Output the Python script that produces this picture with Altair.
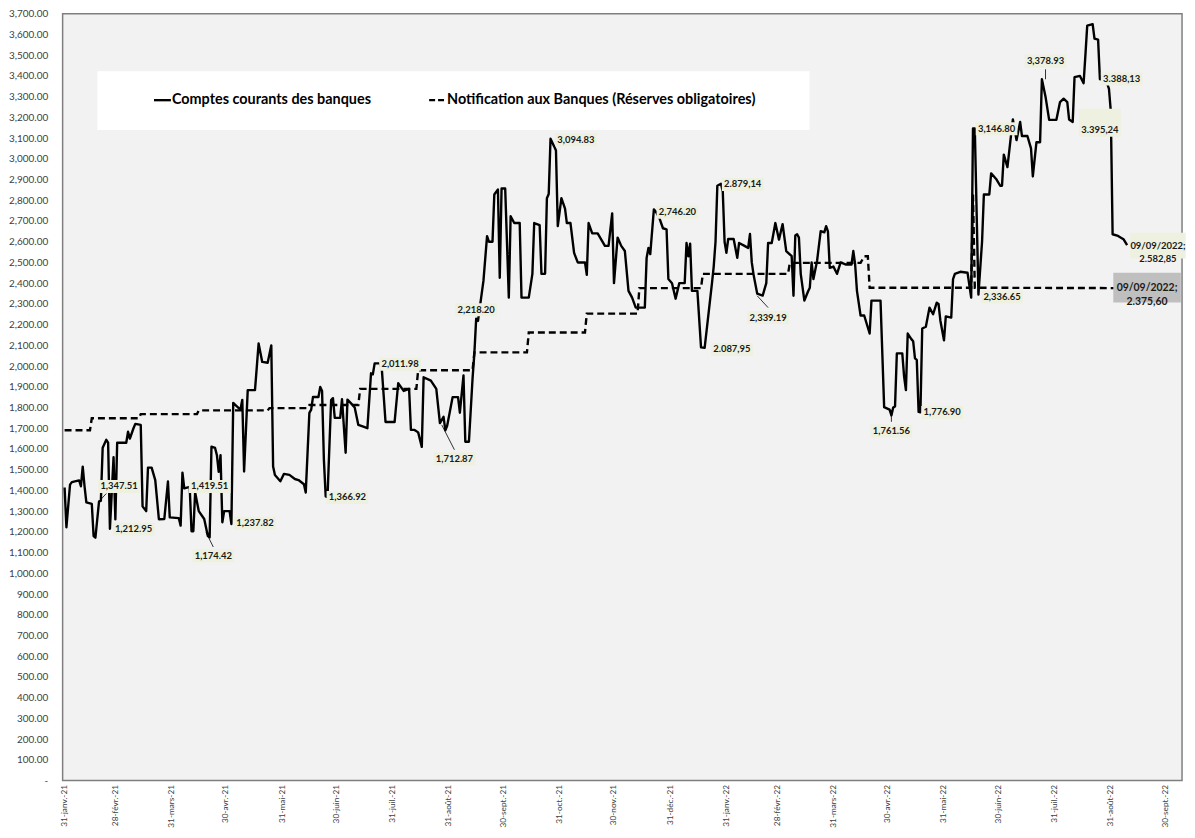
import altair as alt
import pandas as pd

# ---------------- data ----------------
cc_dates = [
    "2021-01-31", "2021-02-01", "2021-02-03", "2021-02-04", "2021-02-08", "2021-02-09", "2021-02-10",
    "2021-02-11", "2021-02-12", "2021-02-15", "2021-02-16", "2021-02-17", "2021-02-19", "2021-02-20",
    "2021-02-21", "2021-02-23", "2021-02-24", "2021-02-25", "2021-02-27", "2021-02-28", "2021-03-01",
    "2021-03-06", "2021-03-07", "2021-03-08", "2021-03-10", "2021-03-11", "2021-03-14", "2021-03-15",
    "2021-03-17", "2021-03-18", "2021-03-20", "2021-03-22", "2021-03-24", "2021-03-27", "2021-03-29",
    "2021-03-30", "2021-04-04", "2021-04-05", "2021-04-06", "2021-04-07", "2021-04-10", "2021-04-11",
    "2021-04-12", "2021-04-13", "2021-04-15", "2021-04-18", "2021-04-20", "2021-04-21", "2021-04-22",
    "2021-04-24", "2021-04-25", "2021-04-26", "2021-04-27", "2021-04-28", "2021-04-29", "2021-05-02",
    "2021-05-03", "2021-05-04", "2021-05-06", "2021-05-08", "2021-05-09", "2021-05-10", "2021-05-12",
    "2021-05-16", "2021-05-17", "2021-05-18", "2021-05-20", "2021-05-23", "2021-05-25", "2021-05-26",
    "2021-05-27", "2021-05-30", "2021-06-01", "2021-06-04", "2021-06-07", "2021-06-09", "2021-06-12",
    "2021-06-13", "2021-06-15", "2021-06-16", "2021-06-17", "2021-06-20", "2021-06-21", "2021-06-22",
    "2021-06-23", "2021-06-24", "2021-06-25", "2021-06-27", "2021-06-28", "2021-06-29", "2021-07-02",
    "2021-07-03", "2021-07-05", "2021-07-06", "2021-07-08", "2021-07-10", "2021-07-12", "2021-07-14",
    "2021-07-17", "2021-07-19", "2021-07-20", "2021-07-21", "2021-07-24", "2021-07-25", "2021-07-27",
    "2021-08-01", "2021-08-03", "2021-08-06", "2021-08-09", "2021-08-10", "2021-08-12", "2021-08-14",
    "2021-08-16", "2021-08-17", "2021-08-21", "2021-08-24", "2021-08-26", "2021-08-28", "2021-08-29",
    "2021-08-30", "2021-09-02", "2021-09-05", "2021-09-06", "2021-09-08", "2021-09-09", "2021-09-11",
    "2021-09-13", "2021-09-14", "2021-09-15", "2021-09-16", "2021-09-19", "2021-09-21", "2021-09-22",
    "2021-09-24", "2021-09-25", "2021-09-27", "2021-09-28", "2021-09-29", "2021-10-01", "2021-10-03",
    "2021-10-04", "2021-10-06", "2021-10-09", "2021-10-10", "2021-10-14", "2021-10-16", "2021-10-17",
    "2021-10-20", "2021-10-21", "2021-10-23", "2021-10-24", "2021-10-25", "2021-10-26", "2021-10-28",
    "2021-10-29", "2021-10-30", "2021-11-01", "2021-11-03", "2021-11-04", "2021-11-06", "2021-11-08",
    "2021-11-10", "2021-11-14", "2021-11-15", "2021-11-16", "2021-11-18", "2021-11-21", "2021-11-23",
    "2021-11-25", "2021-11-27", "2021-11-29", "2021-11-30", "2021-12-02", "2021-12-04", "2021-12-06",
    "2021-12-08", "2021-12-10", "2021-12-12", "2021-12-17", "2021-12-18", "2021-12-19", "2021-12-20",
    "2021-12-22", "2021-12-23", "2021-12-25", "2021-12-27", "2021-12-29", "2021-12-30", "2022-01-01",
    "2022-01-03", "2022-01-05", "2022-01-08", "2022-01-09", "2022-01-10", "2022-01-11", "2022-01-12",
    "2022-01-15", "2022-01-17", "2022-01-19", "2022-01-23", "2022-01-24", "2022-01-25", "2022-01-26",
    "2022-01-28", "2022-01-29", "2022-01-30", "2022-01-31", "2022-02-01", "2022-02-04", "2022-02-06",
    "2022-02-07", "2022-02-10", "2022-02-12", "2022-02-13", "2022-02-14", "2022-02-15", "2022-02-17",
    "2022-02-20", "2022-02-22", "2022-02-23", "2022-02-25", "2022-02-27", "2022-03-01", "2022-03-03",
    "2022-03-05", "2022-03-08", "2022-03-09", "2022-03-10", "2022-03-11", "2022-03-12", "2022-03-13",
    "2022-03-15", "2022-03-17", "2022-03-18", "2022-03-19", "2022-03-20", "2022-03-22", "2022-03-24",
    "2022-03-26", "2022-03-27", "2022-03-28", "2022-03-29", "2022-03-31", "2022-04-02", "2022-04-04",
    "2022-04-07", "2022-04-10", "2022-04-11", "2022-04-12", "2022-04-13", "2022-04-15", "2022-04-17",
    "2022-04-20", "2022-04-21", "2022-04-26", "2022-04-28", "2022-05-01", "2022-05-02", "2022-05-03",
    "2022-05-04", "2022-05-05", "2022-05-08", "2022-05-09", "2022-05-10", "2022-05-11", "2022-05-13",
    "2022-05-14", "2022-05-15", "2022-05-16", "2022-05-17", "2022-05-18", "2022-05-19", "2022-05-21",
    "2022-05-23", "2022-05-25", "2022-05-27", "2022-05-28", "2022-05-29", "2022-05-31", "2022-06-01",
    "2022-06-04", "2022-06-05", "2022-06-06", "2022-06-09", "2022-06-13", "2022-06-15", "2022-06-16",
    "2022-06-17", "2022-06-19", "2022-06-21", "2022-06-22", "2022-06-25", "2022-06-26", "2022-06-29",
    "2022-07-01", "2022-07-02", "2022-07-03", "2022-07-05", "2022-07-07", "2022-07-08", "2022-07-10",
    "2022-07-12", "2022-07-13", "2022-07-16", "2022-07-18", "2022-07-19", "2022-07-21", "2022-07-23",
    "2022-07-24", "2022-07-26", "2022-07-28", "2022-08-01", "2022-08-03", "2022-08-05", "2022-08-07",
    "2022-08-08", "2022-08-10", "2022-08-11", "2022-08-14", "2022-08-16", "2022-08-17", "2022-08-18",
    "2022-08-21", "2022-08-22", "2022-08-24", "2022-08-25", "2022-08-28", "2022-08-30", "2022-08-31",
    "2022-09-01", "2022-09-04", "2022-09-07", "2022-09-09",
]
cc_values = [
    1414, 1222, 1428, 1440, 1448, 1420, 1515,
    1420, 1342, 1335, 1180, 1172, 1347, 1350,
    1606, 1644, 1630, 1215, 1560, 1260, 1630,
    1630, 1683, 1650, 1700, 1721, 1716, 1323,
    1300, 1510, 1510, 1450, 1261, 1262, 1443,
    1270, 1266, 1230, 1486, 1410, 1417, 1203,
    1203, 1390, 1300, 1262, 1180, 1174, 1611,
    1605, 1570, 1490, 1570, 1246, 1300, 1300,
    1238, 1822, 1806, 1790, 1837, 1491, 1884,
    1884, 1995, 2109, 2020, 2016, 2100, 1515,
    1474, 1444, 1480, 1475, 1455, 1450, 1430,
    1390, 1774, 1790, 1851, 1851, 1899, 1880,
    1550, 1371, 1367, 1836, 1845, 1750, 1750,
    1840, 1582, 1838, 1820, 1800, 1716, 1710,
    1700, 1965, 1960, 2013, 2013, 1980, 1730,
    1730, 1917, 1880, 1890, 1692, 1692, 1680,
    1610, 1946, 1930, 1890, 1725, 1755, 1690,
    1712, 1850, 1850, 1775, 1955, 1635, 1635,
    1940, 2061, 2229, 2218, 2411, 2627, 2600,
    2600, 2828, 2852, 2426, 2857, 2857, 2330,
    2723, 2690, 2690, 2330, 2330, 2445, 2690,
    2680, 2445, 2445, 2810, 2830, 3097, 3060,
    3040, 2675, 2810, 2760, 2690, 2690, 2546,
    2500, 2500, 2440, 2690, 2640, 2640, 2610,
    2580, 2580, 2737, 2400, 2620, 2580, 2555,
    2363, 2330, 2282, 2282, 2522, 2570, 2540,
    2756, 2746, 2715, 2665, 2660, 2420, 2400,
    2325, 2400, 2400, 2594, 2530, 2590, 2363,
    2363, 2090, 2088, 2397, 2480, 2600, 2870,
    2880, 2843, 2600, 2546, 2613, 2613, 2522,
    2594, 2580, 2570, 2637, 2500, 2440, 2349,
    2340, 2400, 2594, 2594, 2690, 2610, 2685,
    2555, 2530, 2339, 2630, 2636, 2620, 2445,
    2316, 2360, 2378, 2500, 2420, 2507, 2651,
    2645, 2675, 2650, 2474, 2480, 2445, 2500,
    2490, 2490, 2555, 2490, 2363, 2244, 2244,
    2157, 2316, 2316, 1802, 1790, 1762, 1800,
    1805, 2061, 2061, 1950, 1884, 2157, 2130,
    2120, 2037, 2030, 1779, 1777, 2181, 2190,
    2282, 2250, 2306, 2300, 2220, 2124, 2240,
    2234, 2420, 2445, 2455, 2450, 2330, 3146,
    3146, 2345, 2600, 2828, 2828, 2930, 2900,
    2870, 2870, 3020, 2960, 3115, 3190, 3090,
    3178, 3110, 3110, 3050, 2915, 3080, 3080,
    3384, 3300, 3188, 3188, 3274, 3290, 3274,
    3190, 3178, 3394, 3400, 3365, 3500, 3643,
    3650, 3580, 3575, 3384, 3388, 3337, 3230,
    2636, 2628, 2612, 2583,
]

res_dates = [
    "2021-01-31", "2021-02-14", "2021-02-15", "2021-03-13", "2021-03-14", "2021-04-14", "2021-04-15",
    "2021-05-23", "2021-05-24", "2021-06-14", "2021-06-15", "2021-07-12", "2021-07-13", "2021-08-13",
    "2021-08-14", "2021-09-13", "2021-09-14", "2021-10-13", "2021-10-14", "2021-11-14", "2021-11-15",
    "2021-12-13", "2021-12-14", "2022-01-17", "2022-01-18", "2022-03-06", "2022-03-07", "2022-04-15",
    "2022-04-17", "2022-04-19", "2022-04-20", "2022-06-15", "2022-06-16", "2022-06-17", "2022-09-09",
]
res_values = [
    1690, 1690, 1748, 1748, 1768, 1768, 1786,
    1786, 1797, 1797, 1812, 1812, 1890, 1890,
    1980, 1980, 2066, 2066, 2162, 2162, 2253,
    2253, 2376, 2376, 2445, 2445, 2498, 2498,
    2530, 2530, 2378, 2378, 2828, 2378, 2376,
]

# month-end tick labels of the date axis
tick_dates = [
    "2021-01-31", "2021-02-28", "2021-03-31", "2021-04-30", "2021-05-31", "2021-06-30", "2021-07-31",
    "2021-08-31", "2021-09-30", "2021-10-31", "2021-11-30", "2021-12-31", "2022-01-31", "2022-02-28",
    "2022-03-31", "2022-04-30", "2022-05-31", "2022-06-30", "2022-07-31", "2022-08-31", "2022-09-30",
]
y_ticks = [i * 100 for i in range(38)]

# data labels (label centre in data coordinates)
label_text = ["1,347.51", "1,212.95", "1,174.42", "1,419.51", "1,237.82", "1,366.92", "2,011.98",
              "1,712.87", "2,218.20", "3,094.83", "2,746.20", "2.087,95", "2.879,14", "2,339.19",
              "1,761.56", "1,776.90", "3,146.80", "2,336.65", "3,378.93", "3.388,13"]
label_dates = ["2021-03-02", "2021-03-10", "2021-04-23", "2021-04-21", "2021-05-16", "2021-07-06",
               "2021-08-04", "2021-09-03", "2021-09-15", "2021-11-09", "2022-01-04", "2022-02-03",
               "2022-02-09", "2022-02-23", "2022-05-02", "2022-05-30", "2022-06-29", "2022-07-02",
               "2022-07-26", "2022-09-06"]
label_values = [1419, 1213, 1085, 1419, 1242, 1366, 2009, 1553, 2272, 3092, 2742, 2080, 2876, 2234,
                1687, 1776, 3145, 2334, 3471, 3385]

wide_label_text = ["3.395,24"]
wide_label_dates = ["2022-08-25"]
wide_label_box_values = [3174]
wide_label_values = [3140]

end_label_text = ["09/09/2022;\n2.582,85"]
end_label_dates = ["2022-09-26"]
end_label_values = [2581]

grey_label_text = ["09/09/2022;\n2.375,60"]
grey_label_dates = ["2022-09-20"]
grey_label_values = [2378]

leader_d1 = ["2021-02-19", "2021-04-19", "2021-08-27", "2022-02-17", "2022-05-02", "2022-07-26"]
leader_v1 = [1347, 1198, 1716, 2339, 1788, 3384]
leader_d2 = ["2021-02-23", "2021-04-23", "2021-09-03", "2022-02-23", "2022-05-02", "2022-07-26"]
leader_v2 = [1385, 1127, 1596, 2282, 1731, 3432]

legend_labels = ["Comptes courants des banques", "Notification aux Banques (Réserves obligatoires)"]

# ---------------- frames ----------------
cc = pd.DataFrame({"d": cc_dates, "v": cc_values})
res = pd.DataFrame({"d": res_dates, "v": res_values})
lab = pd.DataFrame({"d": label_dates, "v": label_values, "t": label_text})
wide = pd.DataFrame({"d": wide_label_dates, "vb": wide_label_box_values, "v": wide_label_values,
                     "t": wide_label_text})
endl = pd.DataFrame({"d": end_label_dates, "v": end_label_values, "t": end_label_text})
grey = pd.DataFrame({"d": grey_label_dates, "v": grey_label_values, "t": grey_label_text})
lead = pd.DataFrame({"d1": leader_d1, "v1": leader_v1, "d2": leader_d2, "v2": leader_v2})
dummy = pd.DataFrame({"k": [0]})


def dt(s):
    return alt.DateTime(year=int(s[:4]), month=int(s[5:7]), date=int(s[8:10]), utc=True)


xscale = alt.Scale(type="utc", domain=[alt.DateTime(year=2021, month=1, date=29, hours=22, utc=True),
                                       alt.DateTime(year=2022, month=10, date=9, hours=7, utc=True)])
yscale = alt.Scale(domain=[0, 3700], nice=False, zero=True)

FONT = "Lato"
month_expr = ("utcdate(datum.value) + '-' + ['janv.','févr.','mars','avr.','mai','juin','juil.','août',"
              "'sept.','oct.','nov.','déc.'][utcmonth(datum.value)] + '-' + (utcyear(datum.value) % 100)")

x_axis = alt.Axis(values=[dt(s) for s in tick_dates], labelExpr=month_expr, labelAngle=270,
                  ticks=False, domain=False, grid=False, labelPadding=4, labelFont=FONT,
                  labelFontSize=8.3, labelColor="#404040", title=None, labelOverlap=False,
                  labelFlush=False, labelBound=False)
y_axis = alt.Axis(values=y_ticks, labelExpr="datum.value == 0 ? '-' : format(datum.value, ',.2f')",
                  ticks=False, domain=False, grid=False, labelPadding=15, labelFont=FONT,
                  labelFontSize=10, labelColor="#404040", title=None, labelOverlap=False,
                  labelFlush=False, labelBound=False)


def X(f):
    return alt.X(f"{f}:T", scale=xscale, axis=x_axis)


def Y(f):
    return alt.Y(f"{f}:Q", scale=yscale, axis=y_axis)


line_res = alt.Chart(res).mark_line(color="black", strokeWidth=2.4, strokeDash=[7, 4]).encode(
    x=X("d"), y=Y("v"))
line_cc = alt.Chart(cc).mark_line(color="black", strokeWidth=2.4, strokeJoin="round").encode(
    x=X("d"), y=Y("v"))

leaders = alt.Chart(lead).mark_rule(color="black", strokeWidth=0.8).encode(
    x=X("d1"), x2="d2", y=Y("v1"), y2="v2")

LABEL_FILL = "#eef1e0"
TXT = dict(font=FONT, fontWeight="bold", color="#1a1a1a", align="center", baseline="middle")

lab_box = alt.Chart(lab).mark_rect(fill=LABEL_FILL, xOffset=-21, x2Offset=21, yOffset=-6.5,
                                   y2Offset=6.5).encode(x=X("d"), x2="d", y=Y("v"), y2="v")
lab_txt = alt.Chart(lab).mark_text(fontSize=9.5, **TXT).encode(x=X("d"), y=Y("v"), text="t:N")

wide_box = alt.Chart(wide).mark_rect(fill=LABEL_FILL, xOffset=-21, x2Offset=21, yOffset=-14,
                                     y2Offset=14).encode(x=X("d"), x2="d", y=Y("vb"), y2="vb")
wide_txt = alt.Chart(wide).mark_text(fontSize=9.5, **TXT).encode(x=X("d"), y=Y("v"), text="t:N")

end_box = alt.Chart(endl).mark_rect(fill=LABEL_FILL, xOffset=-28, x2Offset=28, yOffset=-13,
                                    y2Offset=13).encode(x=X("d"), x2="d", y=Y("v"), y2="v")
end_txt = alt.Chart(endl).mark_text(fontSize=9.5, lineBreak="\n", lineHeight=13, **TXT).encode(
    x=X("d"), y=Y("v"), text="t:N")

grey_box = alt.Chart(grey).mark_rect(fill="#bfbfbf", xOffset=-34, x2Offset=34, yOffset=-15,
                                     y2Offset=15).encode(x=X("d"), x2="d", y=Y("v"), y2="v")
grey_txt = alt.Chart(grey).mark_text(fontSize=10.5, lineBreak="\n", lineHeight=14, **TXT).encode(
    x=X("d"), y=Y("v"), text="t:N")

# legend box drawn inside the plot area
leg_box = alt.Chart(dummy).mark_rect(fill="white").encode(
    x=alt.value(35), x2=alt.value(752), y=alt.value(58), y2=alt.value(117))
leg_solid = alt.Chart(dummy).mark_rule(color="black", strokeWidth=2.4).encode(
    x=alt.value(92), x2=alt.value(109), y=alt.value(87))
leg_dash = alt.Chart(dummy).mark_rule(color="black", strokeWidth=2.4, strokeDash=[6, 3]).encode(
    x=alt.value(369), x2=alt.value(386), y=alt.value(87))
leg_t1 = alt.Chart(dummy).mark_text(font=FONT, fontWeight="bold", fontSize=14.5, color="black",
                                    align="left", baseline="middle").encode(
    x=alt.value(110), y=alt.value(87), text=alt.value(legend_labels[0]))
leg_t2 = alt.Chart(dummy).mark_text(font=FONT, fontWeight="bold", fontSize=14.5, color="black",
                                    align="left", baseline="middle").encode(
    x=alt.value(387), y=alt.value(87), text=alt.value(legend_labels[1]))

chart = alt.layer(
    line_res, line_cc, leaders, lab_box, lab_txt, wide_box, wide_txt, end_box, end_txt,
    grey_box, grey_txt, leg_box, leg_solid, leg_dash, leg_t1, leg_t2,
).properties(
    width=1127, height=772,
    autosize=alt.AutoSizeParams(type="none"),
    padding={"left": 55, "top": 3, "right": 5, "bottom": 47},
    background="white",
).configure_view(fill="#f2f2f2", stroke="#7f7f7f", strokeWidth=1.5)

chart.save("out.html", embed_options={"renderer": "svg", "actions": False})
